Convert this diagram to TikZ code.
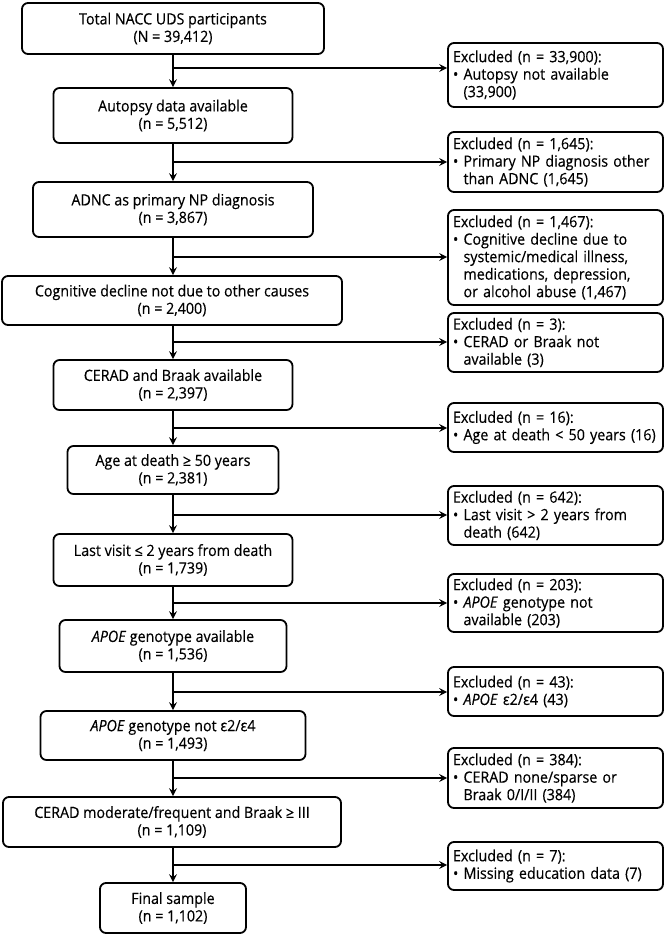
\documentclass[tikz,border=0pt]{standalone}
\usepackage{fontspec}
\setmainfont{Open Sans}[FakeStretch=0.92,FakeBold=0.35]
\usetikzlibrary{arrows.meta}
\newcommand\indt{\hphantom{•\ }}
\begin{document}
\begin{tikzpicture}[x=1pt,y=-1pt,
  every node/.style={font=\fontsize{15.5}{17.5}\selectfont},
  box/.style={draw, line width=1.8pt, rounded corners=6pt, align=center, inner sep=0pt},
  exbox/.style={draw, line width=1.8pt, rounded corners=6pt, align=left, text width=205pt, inner xsep=5pt, inner ysep=0pt, minimum width=215pt},
  arr/.style={line width=1.8pt, -{Stealth[length=8pt,width=8pt,inset=3pt]}}]
\useasboundingbox (0,0) rectangle (666,935);
% left column
\node[box, minimum width=302pt, minimum height=51pt] (b1) at (173,28.5) {Total NACC UDS participants\\(N = 39,412)};
\node[box, minimum width=239pt, minimum height=55pt] (b2) at (173,115.5) {Autopsy data available\\(n = 5,512)};
\node[box, minimum width=280pt, minimum height=55pt] (b3) at (173,209.5) {ADNC as primary NP diagnosis\\(n = 3,867)};
\node[box, minimum width=340pt, minimum height=49pt] (b4) at (172,300.5) {Cognitive decline not due to other causes\\(n = 2,400)};
\node[box, minimum width=239pt, minimum height=50pt] (b5) at (173,385) {CERAD and Braak available\\(n = 2,397)};
\node[box, minimum width=211pt, minimum height=48pt] (b6) at (173,470) {Age at death ≥ 50 years\\(n = 2,381)};
\node[box, minimum width=239pt, minimum height=52pt] (b7) at (173,560) {Last visit ≤ 2 years from death\\(n = 1,739)};
\node[box, minimum width=227pt, minimum height=52pt] (b8) at (173,646) {\textit{APOE} genotype available\\(n = 1,536)};
\node[box, minimum width=265pt, minimum height=49pt] (b9) at (173,735.5) {\textit{APOE} genotype not ε2/ε4\\(n = 1,493)};
\node[box, minimum width=338pt, minimum height=50pt] (b10) at (172,822) {CERAD moderate/frequent and Braak ≥ III\\(n = 1,109)};
\node[box, minimum width=146pt, minimum height=50pt] (b11) at (173,908) {Final sample\\(n = 1,102)};
% right column
\node[exbox, minimum height=64pt] (r1) at (555.5,75) {Excluded (n = 33,900):\\• Autopsy not available\\\indt(33,900)};
\node[exbox, minimum height=60pt] (r2) at (555.5,162) {Excluded (n = 1,645):\\• Primary NP diagnosis other\\\indt than ADNC (1,645)};
\node[exbox, minimum height=95pt] (r3) at (555.5,257.5) {Excluded (n = 1,467):\\• Cognitive decline due to\\\indt systemic/medical illness,\\\indt medications, depression,\\\indt or alcohol abuse (1,467)};
\node[exbox, minimum height=59pt] (r4) at (555.5,342.5) {Excluded (n = 3):\\• CERAD or Braak not\\\indt available (3)};
\node[exbox, minimum height=49pt] (r5) at (555.5,427.5) {Excluded (n = 16):\\• Age at death < 50 years (16)};
\node[exbox, minimum height=59pt] (r6) at (555.5,515.5) {Excluded (n = 642):\\• Last visit > 2 years from\\\indt death (642)};
\node[exbox, minimum height=58pt] (r7) at (555.5,603) {Excluded (n = 203):\\• \textit{APOE} genotype not\\\indt available (203)};
\node[exbox, minimum height=49pt] (r8) at (555.5,691.5) {Excluded (n = 43):\\• \textit{APOE} ε2/ε4 (43)};
\node[exbox, minimum height=60pt] (r9) at (555.5,778) {Excluded (n = 384):\\• CERAD none/sparse or\\\indt Braak 0/I/II (384)};
\node[exbox, minimum height=48pt] (r10) at (555.5,866) {Excluded (n = 7):\\• Missing education data (7)};
% junctions
\coordinate (j1) at (173,68);
\coordinate (j2) at (173,162);
\coordinate (j3) at (173,257);
\coordinate (j4) at (173,342);
\coordinate (j5) at (173,428);
\coordinate (j6) at (173,515);
\coordinate (j7) at (173,603);
\coordinate (j8) at (173,692);
\coordinate (j9) at (173,778);
\coordinate (j10) at (173,865);
% vertical arrows
\draw[arr] (b1.south) -- (b2.north);
\draw[arr] (b2.south) -- (b3.north);
\draw[arr] (b3.south) -- (b3.south |- b4.north);
\draw[arr] (b4.south -| b5.south) -- (b5.north);
\draw[arr] (b5.south) -- (b6.north);
\draw[arr] (b6.south) -- (b7.north);
\draw[arr] (b7.south) -- (b8.north);
\draw[arr] (b8.south) -- (b9.north);
\draw[arr] (b9.south) -- (b9.south |- b10.north);
\draw[arr] (b10.south -| b11.south) -- (b11.north);
% horizontal arrows
\foreach \i in {1,...,10} {\draw[arr] (j\i) -- (j\i -| r\i.west);}
\end{tikzpicture}
\end{document}
